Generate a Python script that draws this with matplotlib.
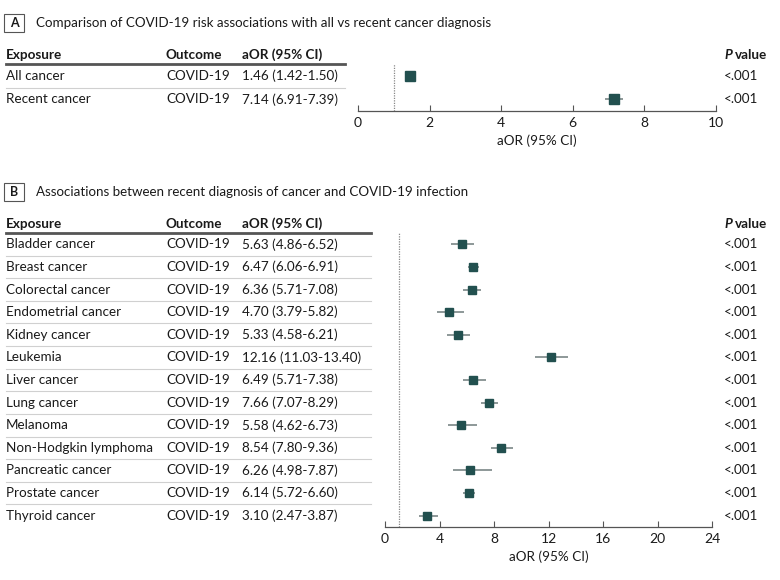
import matplotlib
matplotlib.use('Agg')
import matplotlib.pyplot as plt
from matplotlib.patches import Rectangle

plt.rcParams['font.family'] = ['Lato', 'DejaVu Sans']
plt.rcParams['font.size'] = 9.5

# panel A data
a_exposure = ['All cancer', 'Recent cancer']
a_or = [1.46, 7.14]
a_lo = [1.42, 6.91]
a_hi = [1.50, 7.39]
a_p = ['<.001', '<.001']

# panel B data
b_exposure = ['Bladder cancer', 'Breast cancer', 'Colorectal cancer', 'Endometrial cancer',
              'Kidney cancer', 'Leukemia', 'Liver cancer', 'Lung cancer', 'Melanoma',
              'Non-Hodgkin lymphoma', 'Pancreatic cancer', 'Prostate cancer', 'Thyroid cancer']
b_or = [5.63, 6.47, 6.36, 4.70, 5.33, 12.16, 6.49, 7.66, 5.58, 8.54, 6.26, 6.14, 3.10]
b_lo = [4.86, 6.06, 5.71, 3.79, 4.58, 11.03, 5.71, 7.07, 4.62, 7.80, 4.98, 5.72, 2.47]
b_hi = [6.52, 6.91, 7.08, 5.82, 6.21, 13.40, 7.38, 8.29, 6.73, 9.36, 7.87, 6.60, 3.87]
b_p = ['<.001'] * len(b_or)

outcome = 'COVID-19'
W, H = 780, 580
FS = 9.7
teal = '#22504f'
ci_col = '#7a8686'
txt = '#1a1a1a'

fig = plt.figure(figsize=(7.8, 5.8), dpi=100)
bg = fig.add_axes([0, 0, 1, 1])
bg.set_xlim(0, W)
bg.set_ylim(H, 0)
bg.axis('off')


def panel(letter, title, ty, top, bottom, table_right, ax_left, ax_right,
          exposure, ors, lo, hi, pv, xmax, step, msize):
    # title with boxed letter
    bg.add_patch(Rectangle((4, ty - 9), 20, 18, fill=False, ec='#555555', lw=0.8))
    bg.text(14, ty, letter, ha='center', va='center', fontweight='bold', fontsize=9, color=txt)
    bg.text(36, ty, title, ha='left', va='center', color=txt, fontsize=9.6)

    n = len(exposure)
    rh = (bottom - top) / n
    hy = top - 9
    bg.text(6, hy, 'Exposure', fontweight='bold', va='center', color=txt, fontsize=FS)
    bg.text(166, hy, 'Outcome', fontweight='bold', va='center', color=txt, fontsize=FS)
    bg.text(242, hy, 'aOR (95% CI)', fontweight='bold', va='center', color=txt, fontsize=FS)
    bg.text(724, hy, 'P', fontweight='bold', fontstyle='italic', va='center', color=txt, fontsize=FS)
    bg.text(735, hy, 'value', fontweight='bold', va='center', color=txt, fontsize=FS)
    bg.plot([6, table_right], [top, top], color='#555555', lw=2)

    for i in range(n):
        cy = top + (i + 0.5) * rh
        bg.text(6, cy, exposure[i], va='center', color=txt, fontsize=FS)
        bg.text(166, cy, outcome, va='center', color=txt, fontsize=FS)
        bg.text(242, cy, '{:.2f} ({:.2f}-{:.2f})'.format(ors[i], lo[i], hi[i]),
                va='center', color=txt, fontsize=FS)
        bg.text(724, cy, pv[i], va='center', color=txt, fontsize=FS)
        if i < n - 1:
            bg.plot([6, table_right], [top + (i + 1) * rh] * 2, color='#d0d0d0', lw=0.8)

    ax = fig.add_axes([ax_left / W, 1 - bottom / H, (ax_right - ax_left) / W, (bottom - top) / H])
    ax.set_xlim(0, xmax)
    ax.set_ylim(n, 0)
    ys = [i + 0.5 for i in range(n)]
    ax.axvline(1, color='#888888', ls=(0, (1, 1)), lw=0.9)
    ax.hlines(ys, lo, hi, color=ci_col, lw=1.2, zorder=2)
    ax.plot(ors, ys, 's', color=teal, ms=msize, zorder=3)
    for s in ['top', 'right', 'left']:
        ax.spines[s].set_visible(False)
    ax.spines['bottom'].set_color('#555555')
    ax.spines['bottom'].set_linewidth(0.9)
    ax.set_yticks([])
    ax.set_xticks(range(0, xmax + 1, step))
    ax.tick_params(axis='x', direction='in', length=4, color='#555555', labelsize=10,
                   labelcolor=txt, pad=4)
    ax.set_xlabel('aOR (95% CI)', fontsize=FS, color=txt, labelpad=4)
    return ax


panel('A', 'Comparison of COVID-19 risk associations with all vs recent cancer diagnosis',
      23, 64, 111, 345, 358, 716, a_exposure, a_or, a_lo, a_hi, a_p, 10, 2, 7)
panel('B', 'Associations between recent diagnosis of cancer and COVID-19 infection',
      192, 233, 527, 371, 385, 712, b_exposure, b_or, b_lo, b_hi, b_p, 24, 4, 6)

fig.savefig('out.png', dpi=100)
